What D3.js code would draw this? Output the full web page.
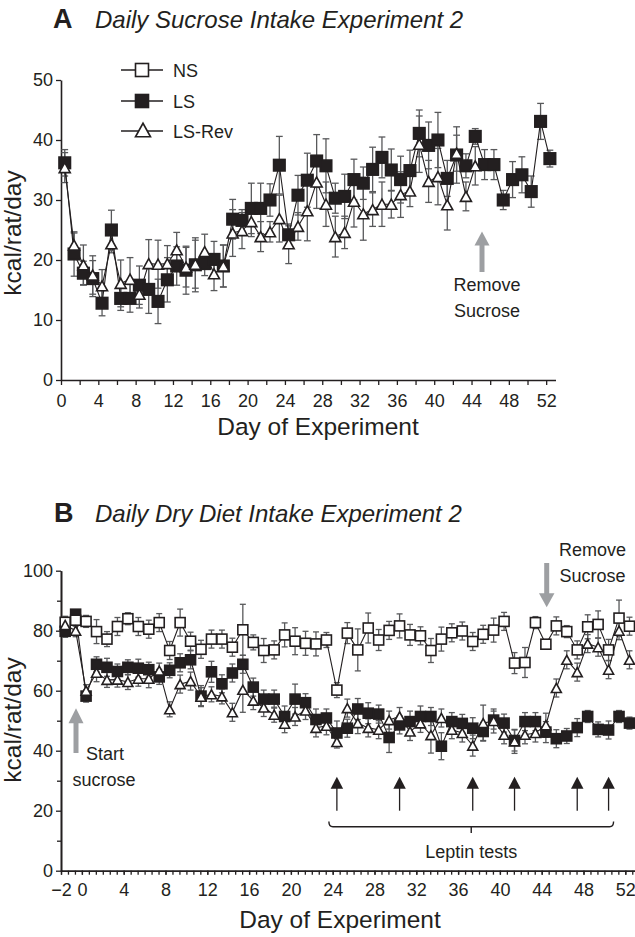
<!DOCTYPE html>
<html>
<head>
<meta charset="utf-8">
<script src="https://cdn.jsdelivr.net/npm/d3@7"></script>
<style>
  body { margin: 0; background: #fff; }
  text { font-family: "Liberation Sans", Arial, sans-serif; fill: #231f20; }
</style>
</head>
<body>
<svg id="chart" width="635" height="937"></svg>
<script>
// ---- Panel A : daily sucrose intake (kcal/rat/day) ----
var daysA = [0,1,2,3,4,5,6,7,8,9,10,11,12,13,14,15,16,17,18,19,20,21,22,23,24,25,26,27,28,29,30,31,32,33,34,35,36,37,38,39,40,41,42,43,44,45,46,47,48,49,50,51,52];
var lsA = [36.2,21.0,17.8,16.9,12.8,25.0,13.6,13.6,15.8,15.1,13.1,16.7,19.0,18.3,19.2,19.4,20.1,19.0,26.8,26.6,28.6,28.6,30.0,35.8,24.2,30.8,33.3,36.5,35.7,30.3,30.6,33.4,32.8,35.1,37.1,35.0,33.4,34.9,41.1,39.1,40.0,33.6,37.5,35.7,40.6,35.9,35.9,30.0,33.4,34.2,31.4,43.1,36.9];
var lsAErr = [2.2,3.7,2.0,3.0,2.1,3.3,2.0,2.3,3.2,4.0,3.7,3.7,3.2,4.0,4.5,2.0,3.0,3.5,3.3,1.8,4.2,4.2,2.7,4.8,1.5,3.3,4.5,4.4,4.5,2.5,3.7,3.4,2.7,3.7,3.4,3.5,3.9,3.4,3.9,3.9,4.6,3.0,4.7,2.0,1.3,2.5,2.5,1.6,3.0,3.0,2.6,3.0,1.4];
var lsRevA = [35.4,22.5,19.2,17.5,15.7,22.7,16.1,16.8,14.3,19.4,19.3,19.4,21.7,18.8,19.3,21.4,17.7,19.0,24.5,24.9,26.4,23.9,24.7,26.9,22.7,25.6,28.2,33.0,29.3,23.9,24.6,29.8,27.7,28.4,29.3,29.3,30.9,31.5,39.3,33.1,33.9,29.2,37.8,30.6,35.7];
var lsRevAErr = [2.5,2.0,3.3,3.2,2.7,1.5,3.9,3.6,2.3,4.0,4.0,3.0,2.9,3.3,4.0,2.9,2.8,3.5,3.9,3.0,2.5,2.5,1.7,3.9,3.3,2.3,5.0,4.4,3.7,3.4,2.7,4.3,4.4,2.8,3.7,2.3,3.8,2.6,4.7,3.5,4.7,4.2,3.0,2.4,3.2];
var xTicksA = [0,4,8,12,16,20,24,28,32,36,40,44,48,52];
var xMinorA = [0,2,4,6,8,10,12,14,16,18,20,22,24,26,28,30,32,34,36,38,40,42,44,46,48,50,52];
var yTicksA = [0,10,20,30,40,50];

// ---- Panel B : daily dry diet intake (kcal/rat/day) ----
var daysB = [-2,-1,0,1,2,3,4,5,6,7,8,9,10,11,12,13,14,15,16,17,18,19,20,21,22,23,24,25,26,27,28,29,30,31,32,33,34,35,36,37,38,39,40,41,42,43,44,45,46,47,48,49,50,51,52];
var nsB = [82.8,83.5,83.1,79.7,77.2,81.4,84.0,81.4,80.5,82.7,73.4,82.7,76.5,73.8,77.2,77.2,74.5,80.3,76.1,73.4,73.6,78.6,76.5,75.8,75.6,76.9,60.2,79.2,73.6,80.9,76.9,80.1,81.6,78.6,78.3,73.4,77.2,79.3,79.9,76.4,78.8,80.2,83.1,69.2,69.4,82.7,75.5,81.6,79.7,73.6,81.3,82.1,73.6,84.2,81.5];
var nsBErr = [2,2,2,4,2.5,3,2,3,3,3,3,4.5,3,3,3,3,3,8.5,2.5,4,3,4,4.5,4,4,2.5,2.5,3.5,7,5,3.5,3,4,3.5,3,4,4,3,3,3,3,4,3,3.5,5,2,1.5,3,2,3,4,4.5,3.5,6,3];
var lsB = [79.8,85.5,58.2,68.8,67.8,66.4,67.8,67.5,67.0,64.6,66.8,69.3,70.3,58.2,66.3,62.3,65.9,68.8,61.2,57.2,57.2,51.4,57.2,56.0,50.4,50.9,45.9,47.5,53.9,52.5,52.2,44.4,48.6,49.7,51.4,51.4,41.5,49.7,49.1,47.5,46.4,50.2,49.2,43.4,49.7,49.7,46.2,44.0,44.9,47.7,51.4,47.1,46.9,51.4,49.2];
var lsBErr = [2,1.5,2,2.5,3,2.5,2.5,3,2.5,2.5,2.5,3,3,3.5,3.5,3,3,3,3,3,3,3.5,5,3,3.5,3,4,3,3.5,3.5,3,5,3,3.5,3.5,3,4.5,3,3,3.5,3,3,3,3.5,3,3,3.5,3,2.5,3,2,2.5,3,2,2];
var lsRevB = [81.9,80.0,60.0,66.0,63.6,63.7,62.9,64.0,64.0,66.7,53.8,62.2,63.2,58.0,58.8,58.1,52.8,60.3,56.7,54.4,52.0,49.0,51.4,53.4,47.6,48.3,42.9,54.2,49.2,47.6,47.0,50.2,51.4,46.4,49.1,45.2,50.9,47.0,45.9,41.7,49.2,49.9,45.3,43.1,45.3,45.9,48.5,60.9,70.3,66.2,75.7,74.5,67.0,80.0,70.3];
var lsRevBErr = [2,2,2,3,2.5,2.5,2.5,2.5,3,2.5,2.5,3,3,3,2.5,2.5,3,7.5,3,3,2.5,3,3,3,3,3,2,3,3.5,3,3,3,3,3,3,6,3,3,3,3.5,6,4,3,4,3,3,4,3,3,3,3,3,3,3,3];
var xTicksB = [-2,0,4,8,12,16,20,24,28,32,36,40,44,48,52];
var yTicksB = [0,20,40,60,80,100];
var yMinorB = [10,30,50,70,90];
var leptinDays = [24,30,37,41,47,50];

var seriesNames = ["NS", "LS", "LS-Rev"];

var svg = d3.select("#chart");
var ink = "#231f20", errGrey = "#58595b", noteGrey = "#9d9fa2";
var DAY_MID = 0.4;   // points sit a little past the day tick

function triPath(cx, cy, w, h) {
  return "M" + cx + "," + (cy - h / 2) + "L" + (cx + w / 2) + "," + (cy + h / 2) +
         "L" + (cx - w / 2) + "," + (cy + h / 2) + "Z";
}

function drawErrors(g, x, y, days, vals, errs, cap) {
  var e = g.append("g").attr("stroke", errGrey).attr("stroke-width", 1.3);
  vals.forEach(function(v, i) {
    var cx = x(days[i] + DAY_MID);
    var top = y(v + errs[i]), bot = y(v - errs[i]);
    e.append("line").attr("x1", cx).attr("x2", cx).attr("y1", top).attr("y2", bot);
    e.append("line").attr("x1", cx - cap).attr("x2", cx + cap).attr("y1", top).attr("y2", top);
    e.append("line").attr("x1", cx - cap).attr("x2", cx + cap).attr("y1", bot).attr("y2", bot);
  });
}

function drawLine(g, x, y, days, vals) {
  var line = d3.line()
    .x(function(d, i) { return x(days[i] + DAY_MID); })
    .y(function(d) { return y(d); });
  g.append("path").datum(vals)
    .attr("d", line)
    .attr("fill", "none")
    .attr("stroke", ink)
    .attr("stroke-width", 1.1);
}

function drawMarkers(g, x, y, days, vals, shape, size, fill) {
  var m = g.append("g");
  vals.forEach(function(v, i) {
    var cx = x(days[i] + DAY_MID), cy = y(v);
    if (shape == "square") {
      m.append("rect")
        .attr("x", cx - size / 2).attr("y", cy - size / 2)
        .attr("width", size).attr("height", size)
        .attr("fill", fill).attr("stroke", ink).attr("stroke-width", 1.6);
    } else {
      m.append("path")
        .attr("d", triPath(cx, cy, size * 1.05, size * 0.95))
        .attr("fill", "#fff").attr("stroke", ink).attr("stroke-width", 1.6)
        .attr("stroke-linejoin", "miter");
    }
  });
}

function styleAxis(g) {
  g.select(".domain").attr("stroke", ink).attr("stroke-width", 1.6);
  g.selectAll(".tick line").attr("stroke", ink).attr("stroke-width", 1.3);
  g.selectAll(".tick text").attr("font-size", 18).attr("fill", ink)
    .style("font-family", "'Liberation Sans', Arial, sans-serif");
}

function upArrow(g, cx, tipY, baseY, headW, headH, colour, shaft) {
  g.append("line").attr("x1", cx).attr("x2", cx)
    .attr("y1", tipY + headH - 1).attr("y2", baseY)
    .attr("stroke", colour).attr("stroke-width", shaft);
  g.append("path").attr("d", "M" + cx + "," + tipY + "L" + (cx + headW / 2) + "," + (tipY + headH) +
      "L" + (cx - headW / 2) + "," + (tipY + headH) + "Z").attr("fill", colour);
}

function downArrow(g, cx, tipY, topY, headW, headH, colour, shaft) {
  g.append("line").attr("x1", cx).attr("x2", cx)
    .attr("y1", topY).attr("y2", tipY - headH + 1)
    .attr("stroke", colour).attr("stroke-width", shaft);
  g.append("path").attr("d", "M" + cx + "," + tipY + "L" + (cx + headW / 2) + "," + (tipY - headH) +
      "L" + (cx - headW / 2) + "," + (tipY - headH) + "Z").attr("fill", colour);
}

// ================= Panel A =================
var xA = d3.scaleLinear().domain([0, 53]).range([61, 555.5]);
var yA = d3.scaleLinear().domain([0, 50]).range([380, 80]);
var gA = svg.append("g");

gA.append("text").attr("x", 53).attr("y", 27.5).attr("font-size", 27).attr("font-weight", "bold").text("A");
gA.append("text").attr("x", 95).attr("y", 27.5).attr("font-size", 24).attr("font-style", "italic")
  .text("Daily Sucrose Intake Experiment 2");

var axAy = gA.append("g").attr("transform", "translate(61,0)")
  .call(d3.axisLeft(yA).tickValues(yTicksA).tickSize(5).tickSizeOuter(0).tickPadding(3));
styleAxis(axAy);
var axAx = gA.append("g").attr("transform", "translate(0,380)")
  .call(d3.axisBottom(xA).tickValues(xMinorA).tickSize(5).tickSizeOuter(0)
    .tickFormat(function(d) { return xTicksA.indexOf(d) >= 0 ? d : ""; }).tickPadding(9));
styleAxis(axAx);

gA.append("text").attr("x", 318).attr("y", 435).attr("font-size", 24.5).attr("text-anchor", "middle")
  .text("Day of Experiment");
gA.append("text").attr("transform", "translate(21,233) rotate(-90)").attr("font-size", 24.5)
  .attr("text-anchor", "middle").text("kcal/rat/day");

drawErrors(gA, xA, yA, daysA, lsA, lsAErr, 3.4);
drawErrors(gA, xA, yA, daysA, lsRevA, lsRevAErr, 3.4);
drawLine(gA, xA, yA, daysA, lsA);
drawLine(gA, xA, yA, daysA, lsRevA);
drawMarkers(gA, xA, yA, daysA, lsA, "square", 11.5, ink);
drawMarkers(gA, xA, yA, daysA, lsRevA, "triangle", 10.5, "#fff");

// legend
var legend = gA.append("g");
[70, 101, 131].forEach(function(ly, i) {
  legend.append("line").attr("x1", 121).attr("x2", 163).attr("y1", ly).attr("y2", ly)
    .attr("stroke", ink).attr("stroke-width", 1.6);
  if (i < 2) {
    legend.append("rect").attr("x", 142 - 6.5).attr("y", ly - 6.5).attr("width", 13).attr("height", 13)
      .attr("fill", i == 0 ? "#fff" : ink).attr("stroke", ink).attr("stroke-width", 1.6);
  } else {
    legend.append("path").attr("d", triPath(143, ly - 1, 15, 13.5))
      .attr("fill", "#fff").attr("stroke", ink).attr("stroke-width", 1.6);
  }
  legend.append("text").attr("x", 173).attr("y", ly + 6.5).attr("font-size", 18).text(seriesNames[i]);
});

// remove sucrose note
upArrow(gA, 482, 231.5, 272, 15, 14, noteGrey, 5);
gA.append("text").attr("x", 487).attr("y", 290.5).attr("font-size", 18).attr("text-anchor", "middle").text("Remove");
gA.append("text").attr("x", 487).attr("y", 316.5).attr("font-size", 18).attr("text-anchor", "middle").text("Sucrose");

// ================= Panel B =================
var xB = d3.scaleLinear().domain([-2, 53]).range([61, 635.75]);
var yB = d3.scaleLinear().domain([0, 100]).range([870.7, 570.7]);
var gB = svg.append("g");

gB.append("text").attr("x", 54).attr("y", 521.7).attr("font-size", 27).attr("font-weight", "bold").text("B");
gB.append("text").attr("x", 95).attr("y", 521.7).attr("font-size", 24).attr("font-style", "italic")
  .text("Daily Dry Diet Intake Experiment 2");

var axBym = gB.append("g").attr("transform", "translate(61,0)")
  .call(d3.axisLeft(yB).tickValues(yMinorB).tickSize(4).tickSizeOuter(0).tickFormat(""));
styleAxis(axBym);
var axBy = gB.append("g").attr("transform", "translate(61,0)")
  .call(d3.axisLeft(yB).tickValues(yTicksB).tickSize(5).tickSizeOuter(0).tickPadding(3));
styleAxis(axBy);
var axBxm = gB.append("g").attr("transform", "translate(0,870.7)")
  .call(d3.axisBottom(xB).tickValues(d3.range(-2, 53.01, 2 / 3)).tickSize(4).tickSizeOuter(0).tickFormat(""));
styleAxis(axBxm);
var axBx = gB.append("g").attr("transform", "translate(0,870.7)")
  .call(d3.axisBottom(xB).tickValues(xTicksB).tickSize(4).tickSizeOuter(0).tickPadding(9));
styleAxis(axBx);

gB.append("text").attr("x", 340).attr("y", 928.3).attr("font-size", 24.5).attr("text-anchor", "middle")
  .text("Day of Experiment");
gB.append("text").attr("transform", "translate(21,720) rotate(-90)").attr("font-size", 24.5)
  .attr("text-anchor", "middle").text("kcal/rat/day");

drawErrors(gB, xB, yB, daysB, lsB, lsBErr, 3);
drawErrors(gB, xB, yB, daysB, nsB, nsBErr, 3);
drawErrors(gB, xB, yB, daysB, lsRevB, lsRevBErr, 3);
drawLine(gB, xB, yB, daysB, lsB);
drawLine(gB, xB, yB, daysB, nsB);
drawLine(gB, xB, yB, daysB, lsRevB);
drawMarkers(gB, xB, yB, daysB, lsB, "square", 10, ink);
drawMarkers(gB, xB, yB, daysB, nsB, "square", 10, "#fff");
drawMarkers(gB, xB, yB, daysB, lsRevB, "triangle", 9.5, "#fff");

// start sucrose note
upArrow(gB, 76, 708.3, 753, 15, 15, noteGrey, 5);
gB.append("text").attr("x", 86).attr("y", 760).attr("font-size", 18).text("Start");
gB.append("text").attr("x", 104).attr("y", 786).attr("font-size", 18).attr("text-anchor", "middle").text("sucrose");

// remove sucrose note
downArrow(gB, 546.7, 607.3, 563, 15.5, 14, noteGrey, 5);
gB.append("text").attr("x", 592.5).attr("y", 556).attr("font-size", 18).attr("text-anchor", "middle").text("Remove");
gB.append("text").attr("x", 592.5).attr("y", 581.7).attr("font-size", 18).attr("text-anchor", "middle").text("Sucrose");

// leptin test arrows + bracket
leptinDays.forEach(function(d) {
  upArrow(gB, xB(d + DAY_MID), 776.7, 810.7, 12.5, 12, ink, 1.3);
});
var bx0 = xB(leptinDays[0] + DAY_MID) - 8, bx1 = xB(leptinDays[leptinDays.length - 1] + DAY_MID) + 5;
var bmid = (bx0 + bx1) / 2;
gB.append("path")
  .attr("d", "M" + bx0 + ",821.5 Q" + bx0 + ",826.7 " + (bx0 + 4) + ",826.7 L" + (bx1 - 4) + ",826.7 Q" +
    bx1 + ",826.7 " + bx1 + ",821.5 M" + bmid + ",826.7 L" + bmid + ",833")
  .attr("fill", "none").attr("stroke", ink).attr("stroke-width", 1.4);
gB.append("text").attr("x", bmid).attr("y", 857.5).attr("font-size", 18).attr("text-anchor", "middle")
  .text("Leptin tests");
</script>
</body>
</html>
